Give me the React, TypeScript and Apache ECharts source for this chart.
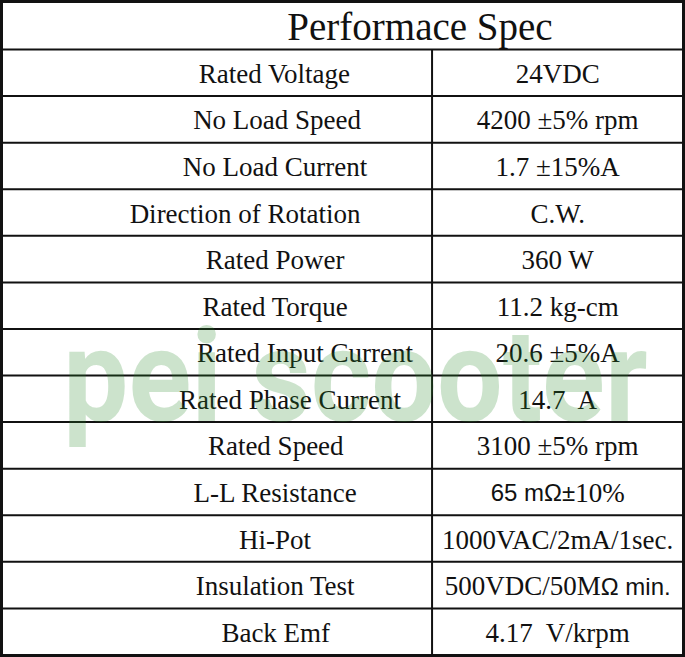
import React, { useEffect, useRef } from "react";
import * as echarts from "echarts";

const TITLE = "Performace Spec";
const WATERMARK = "pei scooter";
const ROW_LABELS = [
  "Rated Voltage",
  "No Load Speed",
  "No Load Current",
  "Direction of Rotation",
  "Rated Power",
  "Rated Torque",
  "Rated Input Current",
  "Rated Phase Current",
  "Rated Speed",
  "L-L Resistance",
  "Hi-Pot",
  "Insulation Test",
  "Back Emf",
];
const ROW_VALUES = [
  "24VDC",
  "4200 ±5% rpm",
  "1.7 ±15%A",
  "C.W.",
  "360 W",
  "11.2 kg-cm",
  "20.6 ±5%A",
  "14.7  A",
  "3100 ±5% rpm",
  "65 mΩ±10%",
  "1000VAC/2mA/1sec.",
  "500VDC/50MΩ min.",
  "4.17  V/krpm",
];

// layout (percent of table width on the hidden x axis)
const LABEL_CENTER = [40, 40.4, 40.1, 35.7, 40.1, 40.1, 44.5, 42.3, 40.2, 40.1, 40.1, 40.1, 40.2];
const VALUE_CENTER = 81.6;
const COLUMN_SPLIT = 63.15;

const LINE = "#111";
const SERIF = '"Liberation Serif", "Times New Roman", serif';
const SANS = '"Liberation Sans", Arial, sans-serif';
const SANS_PART = /(\d+ mΩ±|Ω min\.)/;

function richValue(v: string): string {
  const t = v.replace(/  /g, "\u00a0 ");
  return t
    .split(SANS_PART)
    .filter((s) => s.length > 0)
    .map((s) => {
      const m = s.match(SANS_PART);
      return m && m[0] === s ? `{sans|${s}}` : `{serif|${s}}`;
    })
    .join("");
}

export default function App() {
  const ref = useRef<HTMLDivElement>(null);
  useEffect(() => {
    if (!ref.current) return;
    const chart = echarts.init(ref.current, undefined, { renderer: "svg" });
    const n = ROW_LABELS.length;
    chart.setOption({
      animation: false,
      backgroundColor: "#fff",
      grid: { left: 2, right: 2, top: 49.5, bottom: 2 },
      xAxis: { type: "value", min: 0, max: 100, show: false },
      yAxis: { type: "category", data: ROW_LABELS, inverse: true, show: false },
      graphic: [
        {
          type: "rect",
          shape: { x: 1.5, y: 1.5, width: 682, height: 654 },
          style: { fill: "none", stroke: LINE, lineWidth: 3 },
          z: 50,
        },
        {
          type: "text",
          x: 420,
          y: 26,
          style: {
            text: TITLE,
            fontSize: 39,
            fontFamily: SERIF,
            fill: "#111",
            textAlign: "center",
            textVerticalAlign: "middle",
          },
          z: 50,
        },
        {
          type: "text",
          x: 63,
          y: 377,
          scaleX: 0.895,
          style: {
            text: WATERMARK,
            fontSize: 130,
            fontWeight: 700,
            fontFamily: "Roboto",
            fill: "rgba(40,140,40,0.24)",
            textAlign: "left",
            textVerticalAlign: "middle",
          },
          z: 100,
        },
      ],
      series: [
        {
          type: "custom",
          coordinateSystem: "cartesian2d",
          encode: { x: 0, y: 1 },
          data: ROW_LABELS.map((_, i) => [0, i]),
          renderItem: (params: any, api: any) => {
            const i = params.dataIndex;
            const cs = params.coordSys;
            const yc = api.coord([0, i])[1];
            const h = api.size([0, 1])[1];
            const top = yc - h / 2;
            const xSplit = api.coord([COLUMN_SPLIT, i])[0];
            const xLabel = api.coord([LABEL_CENTER[i], i])[0];
            const xVal = api.coord([VALUE_CENTER, i])[0];
            const lineStyle = { stroke: LINE, lineWidth: 2 };
            const children: any[] = [
              {
                type: "line",
                shape: { x1: cs.x - 2, y1: top, x2: cs.x + cs.width + 2, y2: top },
                style: lineStyle,
              },
              {
                type: "line",
                shape: { x1: xSplit, y1: top, x2: xSplit, y2: top + h },
                style: lineStyle,
              },
              {
                type: "text",
                style: {
                  x: xLabel,
                  y: yc + 1,
                  text: ROW_LABELS[i],
                  fontSize: 27,
                  fontFamily: SERIF,
                  fill: "#111",
                  align: "center",
                  verticalAlign: "middle",
                },
              },
              {
                type: "text",
                style: {
                  x: xVal,
                  y: yc + 1,
                  text: richValue(ROW_VALUES[i]),
                  fontSize: 27,
                  fontFamily: SERIF,
                  fill: "#111",
                  align: "center",
                  verticalAlign: "middle",
                  rich: {
                    serif: { fontFamily: SERIF, fontSize: 27, fill: "#111" },
                    sans: { fontFamily: SANS, fontSize: 24, fill: "#111" },
                  },
                },
              },
            ];
            if (i === n - 1) {
              children.push({
                type: "line",
                shape: { x1: cs.x - 2, y1: top + h, x2: cs.x + cs.width + 2, y2: top + h },
                style: lineStyle,
              });
            }
            return { type: "group", children };
          },
        },
      ],
    });
    return () => chart.dispose();
  }, []);
  return (
    <div
      ref={ref}
      style={{ position: "fixed", left: 0, top: 0, width: 685, height: 657, background: "#fff" }}
    />
  );
}
